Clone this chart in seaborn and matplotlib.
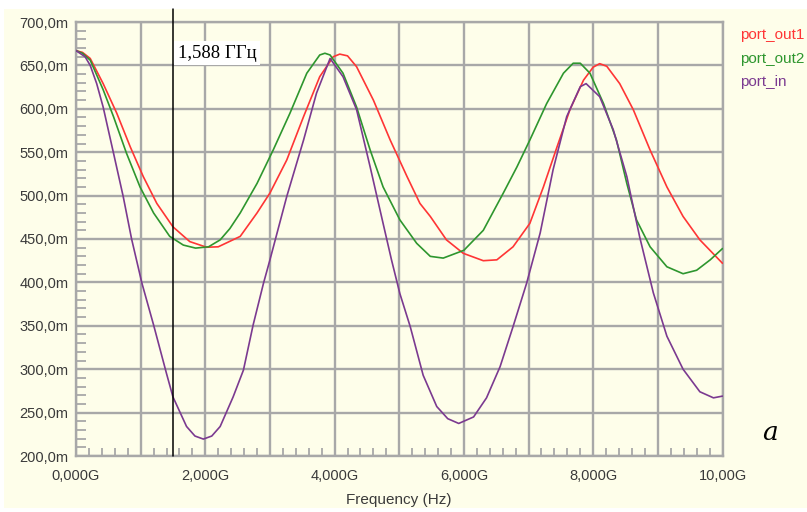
import numpy as np
import pandas as pd
import matplotlib
matplotlib.use("Agg")
import matplotlib.pyplot as plt
import seaborn as sns
from matplotlib.patches import Rectangle
from matplotlib.ticker import MultipleLocator

# ---------------- data ----------------
series_names = ["port_out1", "port_out2", "port_in"]
series_colors = ["#FF3535", "#2E962E", "#7B3A90"]

out1_freq = [0, 0.1, 0.22, 0.42, 0.63, 0.84, 1.04, 1.25, 1.5, 1.76, 2.02, 2.2, 2.54, 2.8, 3.0,
             3.26, 3.52, 3.77, 3.98, 4.08, 4.2, 4.34, 4.6, 4.86, 5.12, 5.32, 5.48, 5.73,
             5.99, 6.3, 6.51, 6.76, 7.02, 7.23, 7.44, 7.64, 7.85, 8.0, 8.1, 8.21, 8.41,
             8.62, 8.88, 9.14, 9.39, 9.65, 10.0]
out1_val = [667, 665, 658, 629, 595, 556, 522, 491, 464, 447, 440.5, 441, 453, 480, 503,
            541, 591, 637, 660, 663, 661, 648.5, 610, 564, 522, 491, 476, 449,
            433.5, 425, 426, 441, 468, 510, 556, 599, 633, 648, 652, 649, 629,
            599, 552.5, 510, 476, 449, 422]

out2_freq = [0, 0.1, 0.22, 0.42, 0.58, 0.78, 0.99, 1.2, 1.45, 1.66, 1.85, 2.05, 2.23, 2.38,
             2.54, 2.8, 3.05, 3.31, 3.57, 3.77, 3.85, 3.93, 4.13, 4.34, 4.55, 4.75, 5.01,
             5.27, 5.48, 5.68, 6.0, 6.3, 6.61, 6.82, 7.02, 7.28, 7.54, 7.69, 7.8, 7.95,
             8.16, 8.36, 8.52, 8.67, 8.88, 9.14, 9.39, 9.6, 9.81, 10.0]
out2_val = [667, 664, 656, 622, 591, 549, 510, 480, 453, 443, 439.5, 441, 449, 462,
            480, 514, 552.5, 595, 641, 662, 664, 662, 641, 602, 552.5, 510, 472,
            445, 430, 428, 437, 460, 503, 533, 564, 606, 641, 652.5, 652.5, 641,
            606, 564, 514, 472, 441, 418, 410, 414, 426, 439]

in_freq = [0, 0.14, 0.22, 0.32, 0.42, 0.58, 0.73, 0.86, 1.02, 1.2, 1.4, 1.5, 1.71, 1.84,
           1.97, 2.1, 2.23, 2.43, 2.59, 2.74, 2.9, 3.0, 3.26, 3.52, 3.72, 3.93, 4.13,
           4.34, 4.55, 4.75, 4.88, 5.01, 5.17, 5.37, 5.58, 5.75, 5.92, 6.15, 6.35, 6.56,
           6.76, 6.97, 7.18, 7.38, 7.59, 7.8, 7.89, 8.1, 8.31, 8.52, 8.72, 8.93, 9.14,
           9.39, 9.65, 9.86, 10.0]
in_val = [667, 660, 650, 629, 602, 549, 499, 450, 399, 351, 295, 268, 234, 223,
          219.5, 223, 234, 268, 299, 351, 399, 426, 499, 564, 618, 658, 637,
          599, 533, 468, 426, 387, 349, 293, 257, 243, 237.5, 245, 267, 303,
          349, 399, 457, 530, 591, 625.5, 629, 614, 576, 522, 452, 388, 338,
          300, 274, 267, 269]

xtick_pos = [0, 1, 2, 3, 4, 5, 6, 7, 8, 9, 10]
xtick_labels = ["0,000G", "", "2,000G", "", "4,000G", "", "6,000G", "", "8,000G", "", "10,00G"]
ytick_pos = [200, 250, 300, 350, 400, 450, 500, 550, 600, 650, 700]
ytick_labels = ["200,0m", "250,0m", "300,0m", "350,0m", "400,0m", "450,0m",
                "500,0m", "550,0m", "600,0m", "650,0m", "700,0m"]
x_title = "Frequency (Hz)"
marker_pos = 1.5
marker_label = "1,588 ГГц"
panel_label = "a"

df = pd.concat([
    pd.DataFrame({"freq": out1_freq, "val": out1_val, "series": series_names[0]}),
    pd.DataFrame({"freq": out2_freq, "val": out2_val, "series": series_names[1]}),
    pd.DataFrame({"freq": in_freq, "val": in_val, "series": series_names[2]}),
], ignore_index=True)

# ---------------- style ----------------
sns.set_style("white")
plt.rcParams["font.family"] = ["Liberation Sans", "DejaVu Sans"]

cream = "#FEFEEA"
gridc = "#A8A8A8"
textc = "#3A3A3A"

W, H = 807, 512
fig = plt.figure(figsize=(W / 100, H / 100), dpi=100)
fig.patch.set_facecolor("white")
fig.patches.append(Rectangle((4 / W, 1 - 508 / H), 803 / W, 499 / H,
                             transform=fig.transFigure, facecolor=cream,
                             edgecolor="none", zorder=-10))

ax = fig.add_axes([76 / W, 1 - 456 / H, (722.5 - 76) / W, (456 - 22) / H])
ax.set_zorder(2)
ax.set_facecolor(cream)

sns.lineplot(data=df, x="freq", y="val", hue="series",
             palette=dict(zip(series_names, series_colors)),
             hue_order=series_names, estimator=None, sort=True,
             linewidth=1.2, legend=False, ax=ax, zorder=3)

ax.set_xlim(0, 10)
ax.set_ylim(200, 700)

ax.set_xticks(xtick_pos)
ax.set_xticklabels(xtick_labels)
ax.set_yticks(ytick_pos)
ax.set_yticklabels(ytick_labels)
ax.xaxis.set_minor_locator(MultipleLocator(0.2))
ax.yaxis.set_minor_locator(MultipleLocator(10))

ax.grid(True, which="major", color=gridc, linewidth=1.7, zorder=1)
ax.set_axisbelow(True)

ax.tick_params(axis="both", which="major", length=0, labelsize=10.5, labelcolor=textc)
ax.tick_params(axis="x", which="major", pad=9)
ax.tick_params(axis="y", which="major", pad=5.5)
ax.tick_params(axis="x", which="minor", direction="in", length=5.5, width=1.3,
               color=gridc, bottom=True)
ax.tick_params(axis="y", which="minor", direction="in", length=7, width=1.3,
               color=gridc, left=True)

for sp in ax.spines.values():
    sp.set_color(gridc)
    sp.set_linewidth(1.7)

ax.set_xlabel(x_title, fontsize=11, color=textc)
ax.set_ylabel("")
ax.xaxis.set_label_coords(0.5, -(493 - 456) / 434)
ax.xaxis.label.set_va("top")

# marker
ax.axvline(marker_pos, ymin=0, ymax=(456 - 9) / 434, color="black", lw=1.1,
           clip_on=False, zorder=5)
ax.annotate(marker_label, xy=(marker_pos, 664), xytext=(3.5, 0),
            textcoords="offset points", ha="left", va="center",
            fontsize=13.5, family=["Liberation Serif", "DejaVu Serif"], color="black",
            bbox=dict(facecolor="white", edgecolor="none", pad=2.6), zorder=6)

# legend as coloured texts
leg_y = [35, 58.5, 82]
for name, col, yy in zip(series_names, series_colors, leg_y):
    fig.text(740 / W, 1 - yy / H, name, color=col, fontsize=11, ha="left", va="center")

fig.text(770 / W, 1 - 433 / H, panel_label, fontsize=19, style="italic",
         family=["DejaVu Serif"], ha="center", va="center", color="black")

fig.savefig("out.png", dpi=100, facecolor="white")
